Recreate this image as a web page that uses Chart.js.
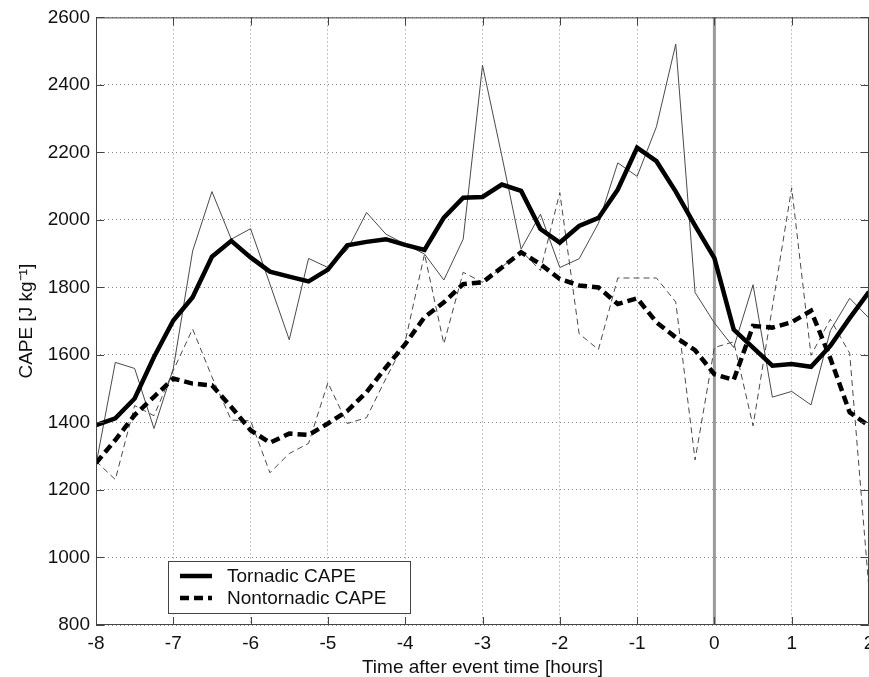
<!DOCTYPE html>
<html>
<head>
<meta charset="utf-8">
<title>CAPE around event time</title>
<script src="https://cdn.jsdelivr.net/npm/chart.js@4.4.1/dist/chart.umd.min.js"></script>
<style>
  html, body { margin: 0; padding: 0; background: #fff; overflow: hidden; }
  #wrap { width: 869px; height: 677px; }
</style>
</head>
<body>
<div id="wrap"><canvas id="capeChart" width="869" height="677"></canvas></div>
<script>
// time after event, hours (15 min steps)
const hours = [-8, -7.75, -7.5, -7.25, -7, -6.75, -6.5, -6.25, -6, -5.75, -5.5, -5.25,
    -5, -4.75, -4.5, -4.25, -4, -3.75, -3.5, -3.25, -3, -2.75, -2.5, -2.25,
    -2, -1.75, -1.5, -1.25, -1, -0.75, -0.5, -0.25, 0, 0.25, 0.5, 0.75,
    1, 1.25, 1.5, 1.75, 2];

// smoothed means
const tornadic = [1392, 1412, 1471, 1594, 1702, 1771, 1891, 1938, 1889, 1847, 1832, 1818,
    1853, 1925, 1935, 1943, 1926, 1911, 2007, 2066, 2068, 2105, 2086, 1973,
    1933, 1982, 2006, 2090, 2214, 2174, 2084, 1983, 1887, 1675, 1622, 1568,
    1573, 1565, 1627, 1709, 1787];
const nontornadic = [1280, 1348, 1422, 1476, 1530, 1515, 1510, 1446, 1377, 1340, 1367, 1363,
    1397, 1434, 1490, 1563, 1632, 1712, 1756, 1810, 1815, 1859, 1904, 1869,
    1825, 1806, 1800, 1751, 1768, 1697, 1652, 1614, 1543, 1526, 1686, 1681,
    1697, 1731, 1590, 1430, 1390];

// raw (unsmoothed) values
const tornadicRaw = [1275, 1578, 1560, 1382, 1560, 1908, 2084, 1943, 1974, 1810, 1645, 1886,
    1859, 1911, 2022, 1958, 1928, 1899, 1822, 1943, 2458, 2190, 1914, 2017,
    1859, 1885, 1990, 2169, 2129, 2276, 2521, 1785, 1695, 1622, 1808, 1475,
    1492, 1452, 1672, 1768, 1709];
const nontornadicRaw = [1285, 1231, 1450, 1420, 1554, 1677, 1535, 1407, 1405, 1251, 1308, 1338,
    1518, 1397, 1414, 1530, 1640, 1899, 1633, 1845, 1815, 1860, 1909, 1850,
    2081, 1663, 1616, 1828, 1828, 1828, 1757, 1289, 1622, 1639, 1390, 1742,
    2095, 1599, 1706, 1605, 905];

const yTicks = [800, 1000, 1200, 1400, 1600, 1800, 2000, 2200, 2400, 2600];
const xTicks = [-8, -7, -6, -5, -4, -3, -2, -1, 0, 1, 2];

const FONT = 'Liberation Sans, Arial, Helvetica, sans-serif';

function pts(values) {
    return hours.map((h, i) => ({ x: h, y: values[i] }));
}

// grey event line, box and inward ticks (matlab look)
const framePlugin = {
    id: 'frame',
    beforeDatasetsDraw(chart) {
        const { ctx, chartArea: a, scales: { x } } = chart;
        const px = x.getPixelForValue(0);
        ctx.save();
        ctx.strokeStyle = '#9a9a9a';
        ctx.lineWidth = 3;
        ctx.beginPath();
        ctx.moveTo(px, a.top);
        ctx.lineTo(px, a.bottom);
        ctx.stroke();
        ctx.restore();
    },
    afterDatasetsDraw(chart) {
        const { ctx, chartArea: a, scales: { x, y } } = chart;
        const tl = 8;
        ctx.save();
        ctx.strokeStyle = '#444';
        ctx.lineWidth = 1;
        ctx.beginPath();
        ctx.rect(a.left + 0.5, a.top + 0.5, a.right - a.left - 1, a.bottom - a.top - 1);
        xTicks.forEach(v => {
            const p = Math.round(x.getPixelForValue(v)) + 0.5;
            ctx.moveTo(p, a.bottom);
            ctx.lineTo(p, a.bottom - tl);
            ctx.moveTo(p, a.top);
            ctx.lineTo(p, a.top + tl);
        });
        yTicks.forEach(v => {
            const p = Math.round(y.getPixelForValue(v)) + 0.5;
            ctx.moveTo(a.left, p);
            ctx.lineTo(a.left + tl, p);
            ctx.moveTo(a.right, p);
            ctx.lineTo(a.right - tl, p);
        });
        ctx.stroke();
        ctx.restore();
    },
    afterDraw(chart) {
        const { ctx } = chart;
        const box = { x: 168, y: 561, w: 242, h: 52 };
        ctx.save();
        ctx.fillStyle = '#fff';
        ctx.fillRect(box.x, box.y, box.w, box.h);
        ctx.strokeStyle = '#444';
        ctx.lineWidth = 1;
        ctx.strokeRect(box.x + 0.5, box.y + 0.5, box.w, box.h);

        const rows = [
            { ds: chart.data.datasets[0], cy: 576 },
            { ds: chart.data.datasets[1], cy: 598 }
        ];
        ctx.font = '19px ' + FONT;
        ctx.textBaseline = 'middle';
        ctx.textAlign = 'left';
        rows.forEach(r => {
            ctx.strokeStyle = r.ds.borderColor;
            ctx.lineWidth = r.ds.borderWidth;
            ctx.setLineDash(r.ds.borderDash || []);
            ctx.beginPath();
            ctx.moveTo(180, r.cy);
            ctx.lineTo(212, r.cy);
            ctx.stroke();
            ctx.setLineDash([]);
            ctx.fillStyle = '#111';
            ctx.fillText(r.ds.label, 227, r.cy + 1);
        });
        ctx.restore();
    }
};

const ctx = document.getElementById('capeChart').getContext('2d');
new Chart(ctx, {
    type: 'line',
    data: {
        datasets: [
            {
                label: 'Tornadic CAPE',
                data: pts(tornadic),
                borderColor: '#000',
                borderWidth: 4.5,
                order: 0
            },
            {
                label: 'Nontornadic CAPE',
                data: pts(nontornadic),
                borderColor: '#000',
                borderWidth: 4.5,
                borderDash: [9, 5],
                order: 1
            },
            {
                label: 'Tornadic raw',
                data: pts(tornadicRaw),
                borderColor: '#4a4a4a',
                borderWidth: 1,
                order: 2
            },
            {
                label: 'Nontornadic raw',
                data: pts(nontornadicRaw),
                borderColor: '#4a4a4a',
                borderWidth: 1,
                borderDash: [6, 4],
                order: 3
            }
        ]
    },
    options: {
        responsive: false,
        animation: false,
        devicePixelRatio: 1,
        layout: { padding: { top: 16, left: 0, right: 0, bottom: 0 } },
        elements: {
            point: { radius: 0, hoverRadius: 0 },
            line: { tension: 0, fill: false, borderCapStyle: 'butt' }
        },
        plugins: {
            legend: { display: false },
            tooltip: { enabled: false }
        },
        scales: {
            x: {
                type: 'linear',
                min: -8,
                max: 2,
                afterBuildTicks: scale => { scale.ticks = xTicks.map(v => ({ value: v })); },
                afterFit: scale => {
                    scale.height = 52;
                    scale.paddingLeft = 0;
                    scale.paddingRight = 0;
                },
                ticks: {
                    padding: 7,
                    color: '#111',
                    font: { family: FONT, size: 19 },
                    maxRotation: 0,
                    autoSkip: false,
                    callback: v => String(v)
                },
                grid: { color: '#8a8a8a', lineWidth: 1, drawTicks: false },
                border: { display: false, dash: [1, 3] },
                title: {
                    display: true,
                    text: 'Time after event time [hours]',
                    color: '#111',
                    font: { family: FONT, size: 19, lineHeight: 1 },
                    padding: { top: 0, bottom: 0 }
                }
            },
            y: {
                min: 800,
                max: 2600,
                afterBuildTicks: scale => { scale.ticks = yTicks.map(v => ({ value: v })); },
                afterFit: scale => { scale.width = 96; },
                ticks: {
                    padding: 6,
                    color: '#111',
                    font: { family: FONT, size: 19 },
                    callback: v => String(v)
                },
                grid: { color: '#8a8a8a', lineWidth: 1, drawTicks: false },
                border: { display: false, dash: [1, 3] },
                title: {
                    display: true,
                    text: 'CAPE [J kg\u207B\u00B9]',
                    color: '#111',
                    font: { family: FONT, size: 19, lineHeight: 1 },
                    padding: { top: 17, bottom: 0 }
                }
            }
        }
    },
    plugins: [framePlugin]
});
</script>
</body>
</html>
